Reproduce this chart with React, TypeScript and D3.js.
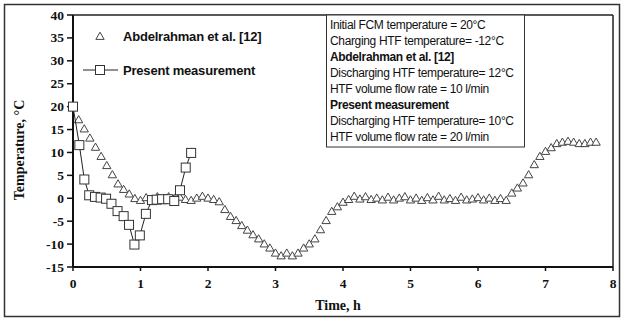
import React from "react";
import * as d3 from "d3";

const abdelTime: number[] = Array.from({ length: 94 }, (_, i) => i / 12);
const abdelTemp: number[] = [
  20, 17.0, 15.0, 13.0, 11.0, 9.0, 7.0, 5.0, 3.0, 1.8,
  0.8, -0.2, -0.6, 0.0, -0.5, 0.2, -0.3, 0.2, -0.2, 0.1,
  -0.4, -0.6, -0.1, 0.3, -0.1, -0.4, -0.9, -2.6, -4.1, -5.0,
  -6.1, -7.1, -8.1, -9.0, -10.1, -11.0, -12.1, -12.7, -12.1, -12.7,
  -12.1, -11.0, -10.1, -9.0, -7.0, -5.0, -3.0, -2.0, -1.0, -0.4,
  0.3, -0.3, 0.2, -0.4, -0.1, -0.5, 0.1, -0.5, -0.1, 0.2,
  -0.5, -0.1, -0.6, 0.0, -0.5, 0.3, -0.5, -0.2, -0.6, 0.1,
  -0.5, -0.3, 0.0, -0.5, -0.1, -0.6, -0.2, -0.6, 1.0, 2.1,
  3.2, 5.0, 7.2, 9.0, 10.1, 10.9, 11.8, 12.1, 12.3, 12.1,
  11.8, 11.8, 12.1, 12.1,
];

const presentTime: number[] = [
  0, 0.094, 0.168, 0.24, 0.326, 0.41, 0.49, 0.57, 0.66, 0.75, 0.83,
  0.91, 0.99, 1.08, 1.17, 1.24, 1.32, 1.41, 1.5, 1.585, 1.67, 1.75,
];
const presentTemp: number[] = [
  20, 11.6, 4.1, 0.65, 0.3, 0.15, -0.1, -1.2, -2.8, -3.9, -5.8,
  -10.1, -8.1, -3.4, -0.4, -0.3, -0.2, -0.2, -0.6, 1.75, 6.7, 9.9,
];

const xTicks: number[] = [0, 1, 2, 3, 4, 5, 6, 7, 8];
const yTicks: number[] = [-15, -10, -5, 0, 5, 10, 15, 20, 25, 30, 35, 40];

const legendLabels: string[] = ["Abdelrahman et al. [12]", "Present measurement"];
const boxLines: { text: string; bold: boolean }[] = [
  { text: "Initial FCM temperature = 20°C", bold: false },
  { text: "Charging HTF temperature= -12°C", bold: false },
  { text: "Abdelrahman et al. [12]", bold: true },
  { text: "Discharging HTF temperature= 12°C", bold: false },
  { text: "HTF volume flow rate = 10 l/min", bold: false },
  { text: "Present measurement", bold: true },
  { text: "Discharging HTF temperature= 10°C", bold: false },
  { text: "HTF volume flow rate = 20 l/min", bold: false },
];

const W = 624;
const H = 320;
const L = 73, R = 613, T = 15, B = 267;

export default function App() {
  const x = d3.scaleLinear().domain([0, 8]).range([L, R]);
  const y = d3.scaleLinear().domain([-15, 40]).range([B, T]);
  const tri = d3.symbol(d3.symbolTriangle, 30)() as string;
  const line = d3
    .line<number>()
    .x((_, i) => x(presentTime[i]))
    .y((d) => y(d));
  const serif = "'Liberation Serif', 'Times New Roman', serif";
  const sans = "'Liberation Sans', Arial, sans-serif";
  const tickFs = 13.5;
  return (
    <svg
      width={W}
      height={H}
      style={{ position: "absolute", left: 0, top: 0, background: "#fff" }}
    >
      <rect x={4.5} y={4.5} width={615} height={312} fill="#fff" stroke="#333" strokeWidth={1.5} />
      <line x1={L} y1={T} x2={R} y2={T} stroke="#222" strokeWidth={1.5} />
      <line x1={R} y1={T} x2={R} y2={B} stroke="#222" strokeWidth={1.5} />
      <line x1={L} y1={T} x2={L} y2={B} stroke="#111" strokeWidth={2} />
      <line x1={L} y1={B} x2={R} y2={B} stroke="#111" strokeWidth={2} />
      {yTicks.map((t) => (
        <g key={"y" + t}>
          <line x1={L - 6} x2={L} y1={y(t)} y2={y(t)} stroke="#111" strokeWidth={1.5} />
          <text x={L - 9} y={y(t) + 4.5} textAnchor="end" fontFamily={serif} fontWeight="bold" fontSize={tickFs} fill="#111">
            {t}
          </text>
        </g>
      ))}
      {xTicks.map((t) => (
        <g key={"x" + t}>
          <line x1={x(t)} x2={x(t)} y1={B} y2={B + 4} stroke="#111" strokeWidth={1.5} />
          <text x={x(t)} y={B + 21} textAnchor="middle" fontFamily={serif} fontWeight="bold" fontSize={tickFs} fill="#111">
            {t}
          </text>
        </g>
      ))}
      <text x={338} y={310} textAnchor="middle" fontFamily={serif} fontWeight="bold" fontSize={14} fill="#111">
        Time, h
      </text>
      <text
        transform={`translate(24,150) rotate(-90)`}
        textAnchor="middle"
        fontFamily={serif}
        fontWeight="bold"
        fontSize={14}
        fill="#111"
      >
        Temperature, °C
      </text>
      <rect x={326.5} y={15} width={198} height={132} fill="#fff" stroke="#333" strokeWidth={1} />
      {boxLines.map((l, i) => (
        <text
          key={"b" + i}
          x={330}
          y={29 + i * 16}
          fontFamily={sans}
          fontWeight={l.bold ? "bold" : "normal"}
          fontSize={12}
          letterSpacing={-0.35}
          fill="#111"
        >
          {l.text}
        </text>
      ))}
      {abdelTemp.map((v, i) => (
        <path
          key={"t" + i}
          d={tri}
          transform={`translate(${x(abdelTime[i])},${y(v)})`}
          fill="#fff"
          stroke="#444"
          strokeWidth={1}
        />
      ))}
      <path d={line(presentTemp) || ""} fill="none" stroke="#222" strokeWidth={1} />
      {presentTemp.map((v, i) => (
        <rect
          key={"s" + i}
          x={x(presentTime[i]) - 4.5}
          y={y(v) - 4.5}
          width={9}
          height={9}
          fill="#fff"
          stroke="#333"
          strokeWidth={1}
        />
      ))}
      <path d={tri} transform="translate(100,37)" fill="#fff" stroke="#444" strokeWidth={1} />
      <text x={123} y={41} fontFamily={sans} fontWeight="bold" fontSize={13} letterSpacing={-0.2} fill="#111">
        {legendLabels[0]}
      </text>
      <line x1={83} x2={118} y1={70} y2={70} stroke="#222" strokeWidth={1} />
      <rect x={95.5} y={65.5} width={9} height={9} fill="#fff" stroke="#333" strokeWidth={1} />
      <text x={123} y={75} fontFamily={sans} fontWeight="bold" fontSize={13} letterSpacing={-0.2} fill="#111">
        {legendLabels[1]}
      </text>
    </svg>
  );
}
